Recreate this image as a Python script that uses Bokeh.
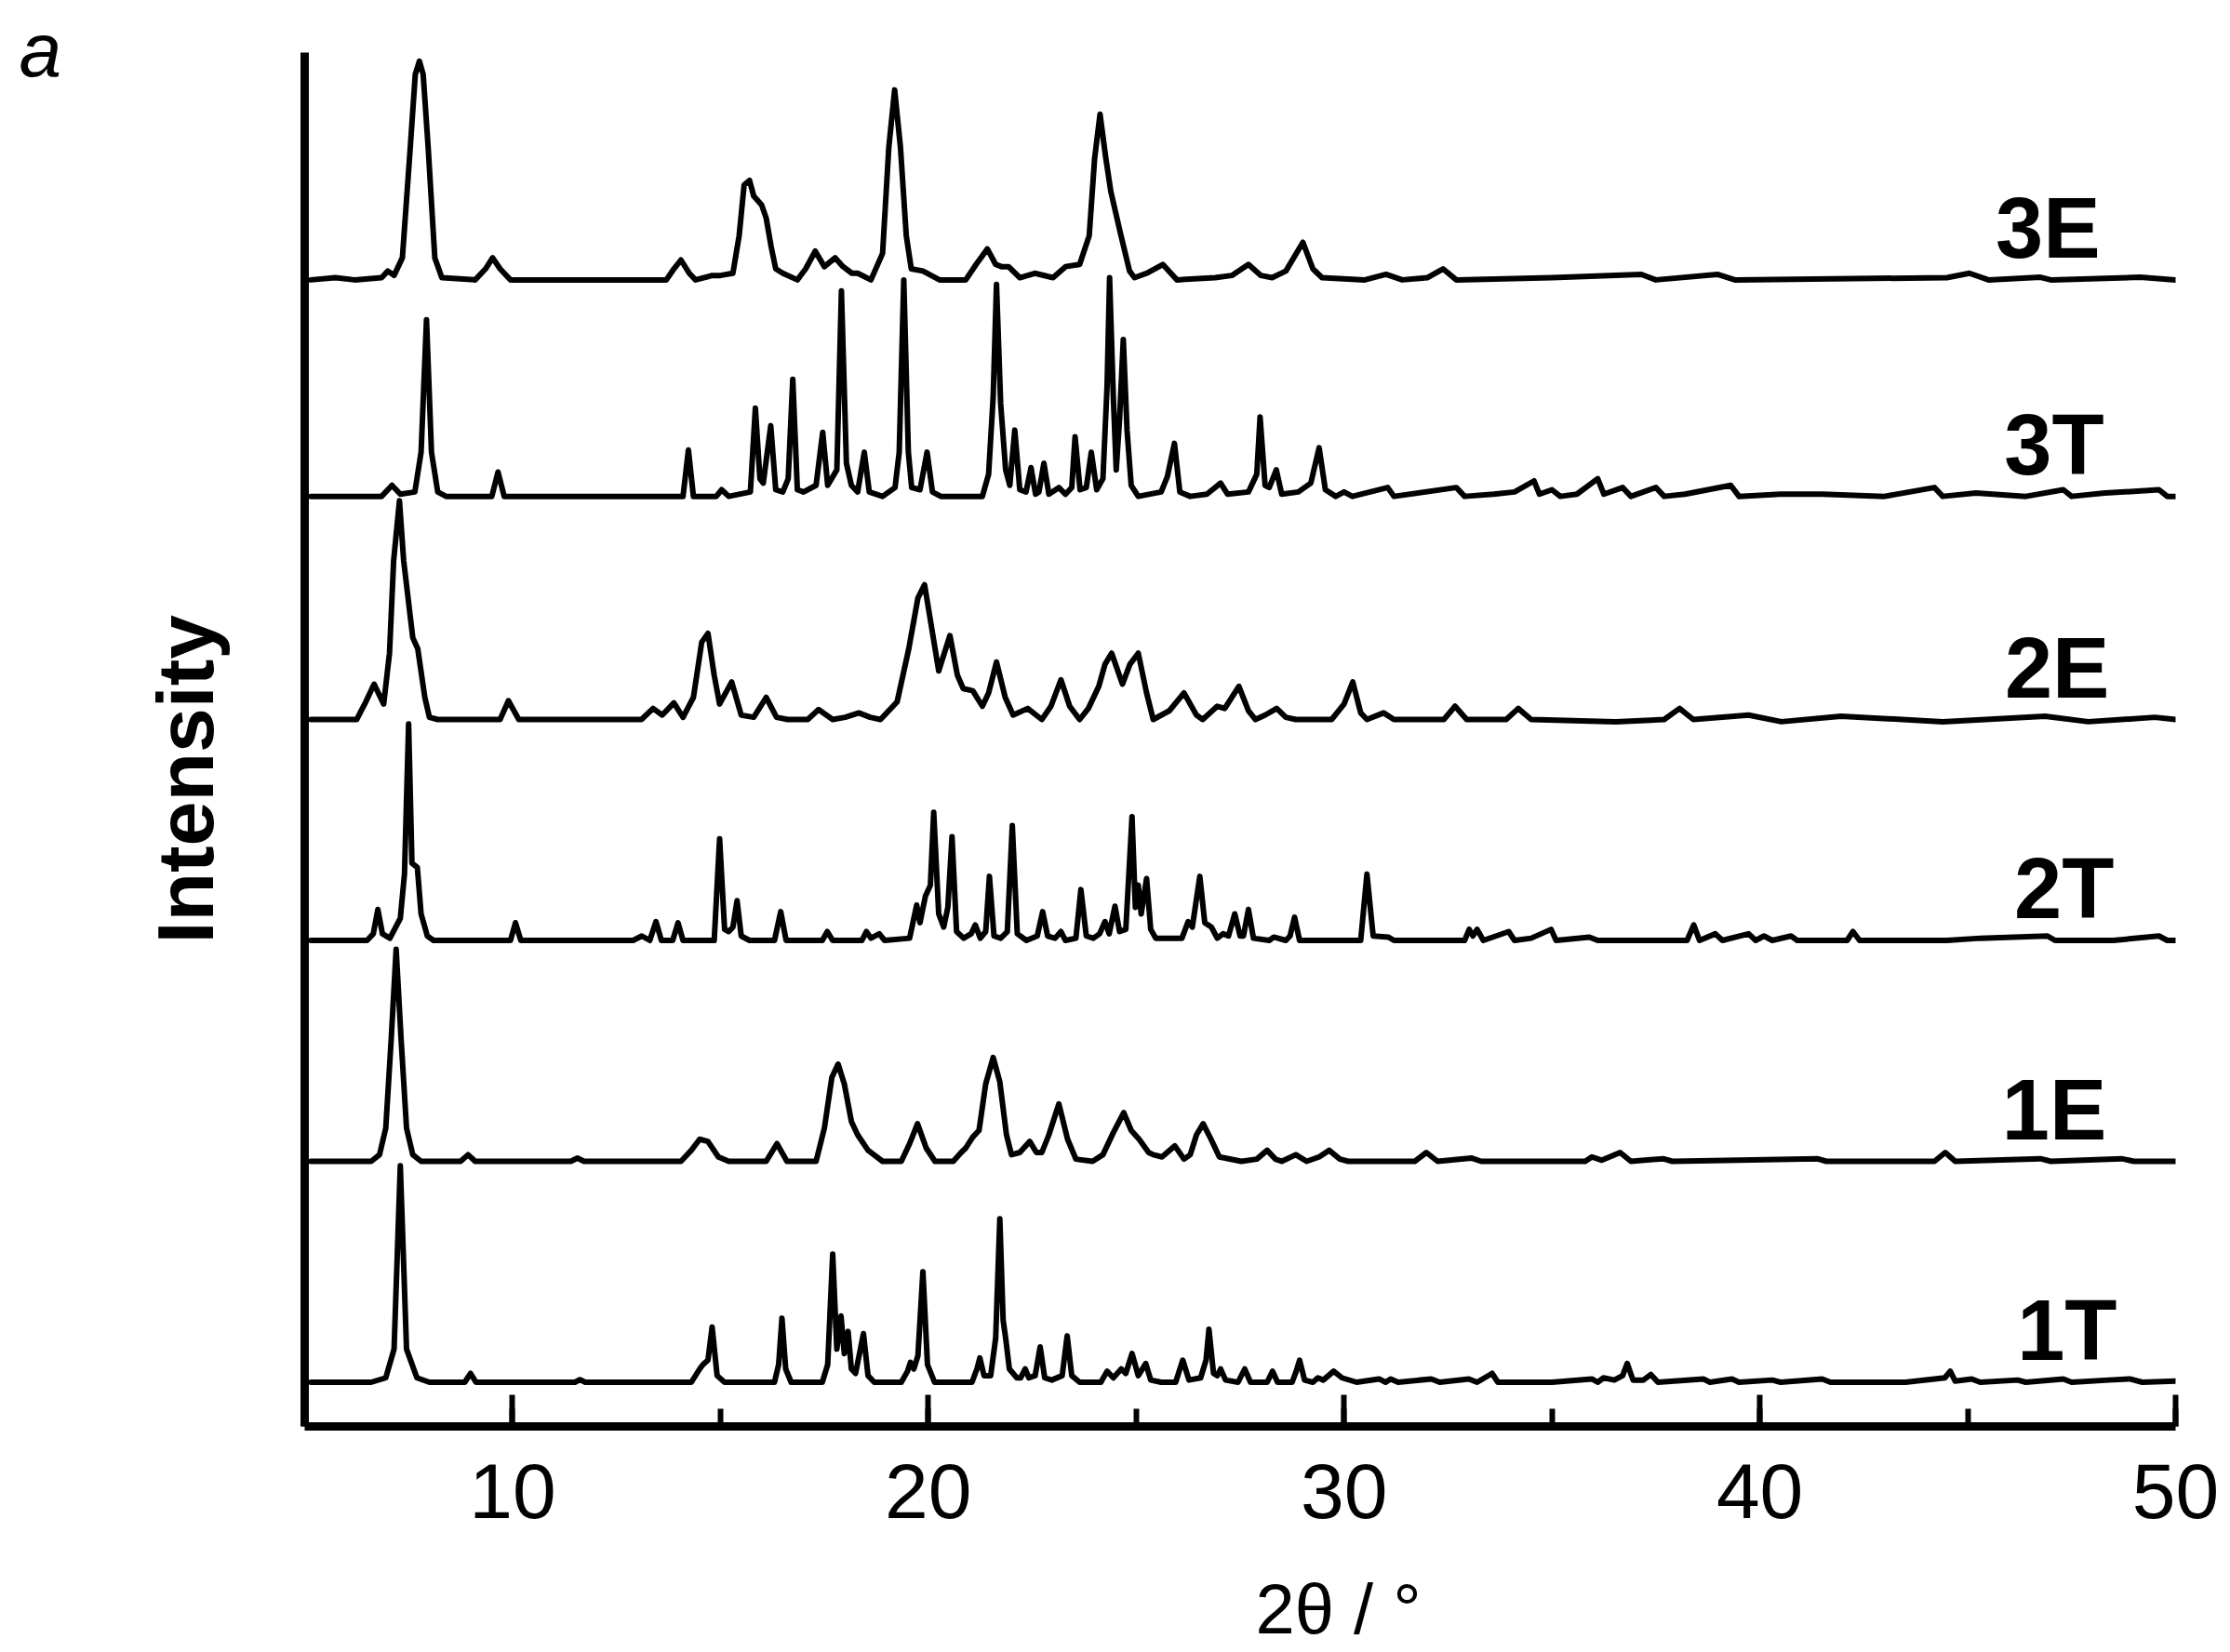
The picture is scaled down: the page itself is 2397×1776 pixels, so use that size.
from bokeh.plotting import figure
from bokeh.models import SingleIntervalTicker, FixedTicker, Title, Label
from bokeh.embed import file_html
from bokeh.resources import INLINE

# ---- data: traced (2theta, relative intensity) points for each pattern ----
PATTERN_1T = [(5.15,0),(6.6,0),(6.95,0.02),(7.15,0.15),(7.3,0.98),(7.45,0.15),(7.7,0.02),(8.0,0),
 (8.85,0),(8.99,0.04),(9.12,0),(11.5,0),(11.62,0.012),(11.75,0),(14.3,0),(14.5,0.06),(14.58,0.08),
 (14.7,0.10),(14.8,0.25),(14.92,0.03),(15.1,0),(16.3,0),(16.4,0.08),(16.48,0.29),(16.57,0.06),(16.7,0),
 (17.45,0),(17.58,0.08),(17.7,0.58),(17.8,0.15),(17.9,0.30),(17.98,0.13),(18.07,0.23),(18.15,0.06),
 (18.25,0.04),(18.44,0.22),(18.55,0.03),(18.7,0),(19.35,0),(19.5,0.05),(19.57,0.09),(19.65,0.06),
 (19.75,0.12),(19.87,0.50),(19.98,0.08),(20.15,0),(21.05,0),(21.17,0.06),(21.24,0.11),(21.34,0.03),
 (21.5,0.03),(21.62,0.2),(21.72,0.74),(21.8,0.28),(21.86,0.2),(21.95,0.06),(22.13,0.02),(22.22,0.02),
 (22.33,0.06),(22.42,0.02),(22.57,0.03),(22.69,0.16),(22.8,0.02),(22.97,0.01),(23.22,0.03),(23.34,0.21),
 (23.45,0.03),(23.64,0),(24.15,0),(24.3,0.05),(24.45,0.02),(24.64,0.06),(24.75,0.04),(24.9,0.13),
 (25.05,0.03),(25.23,0.085),(25.35,0.01),(25.6,0),(25.95,0),(26.12,0.1),(26.27,0.01),(26.55,0.02),
 (26.68,0.1),(26.75,0.24),(26.86,0.04),(26.95,0.03),(27.03,0.06),(27.15,0.01),(27.45,0),(27.61,0.06),
 (27.75,0),(28.15,0),(28.28,0.05),(28.4,0),(28.75,0),(28.85,0.05),(28.93,0.10),(29.05,0.01),(29.25,0),
 (29.37,0.02),(29.5,0.01),(29.75,0.05),(29.95,0.02),(30.3,0),(30.84,0.015),(31.0,0),(31.12,0.015),
 (31.3,0),(32.1,0.015),(32.3,0),(33.0,0.015),(33.2,0),(33.56,0.04),(33.7,0),(35.0,0),(35.96,0.015),
 (36.1,0),(36.24,0.02),(36.5,0.01),(36.7,0.03),(36.81,0.085),(36.95,0.01),(37.2,0.01),(37.38,0.035),
 (37.55,0),(38.64,0.015),(38.8,0),(39.33,0.015),(39.5,0),(40.3,0.01),(40.5,0),(41.5,0.015),(41.7,0),
 (43.5,0),(44.45,0.02),(44.58,0.05),(44.7,0.005),(45.1,0.015),(45.3,0),(46.2,0.01),(46.4,0),
 (47.3,0.015),(47.5,0),(48.4,0.01),(48.9,0.015),(49.2,0),(50.0,0.005)]

PATTERN_1E = [(5.15,0),(6.6,0),(6.8,0.03),(6.95,0.15),(7.08,0.55),(7.2,0.96),(7.32,0.55),(7.45,0.15),
 (7.6,0.03),(7.8,0),(8.75,0),(8.93,0.03),(9.1,0),(11.4,0),(11.56,0.015),(11.72,0),(14.05,0),(14.3,0.05),
 (14.5,0.10),(14.7,0.09),(14.95,0.02),(15.2,0),(16.1,0),(16.36,0.08),(16.6,0),(17.3,0),(17.5,0.15),
 (17.68,0.38),(17.83,0.44),(17.98,0.35),(18.15,0.18),(18.3,0.12),(18.55,0.05),(18.9,0),(19.35,0),
 (19.55,0.08),(19.74,0.17),(19.95,0.06),(20.16,0),(20.6,0),(20.79,0.04),(20.9,0.06),(21.07,0.11),
 (21.22,0.14),(21.38,0.35),(21.56,0.47),(21.72,0.36),(21.88,0.12),(22.0,0.03),(22.2,0.04),(22.44,0.09),
 (22.6,0.04),(22.73,0.04),(22.9,0.12),(23.14,0.26),(23.35,0.10),(23.55,0.01),(23.95,0),(24.2,0.03),
 (24.45,0.13),(24.7,0.22),(24.88,0.14),(25.07,0.10),(25.3,0.04),(25.41,0.03),(25.62,0.02),(25.93,0.07),
 (26.15,0.01),(26.3,0.03),(26.45,0.12),(26.61,0.17),(26.8,0.10),(27.0,0.02),(27.53,0),(27.9,0.01),
 (28.15,0.05),(28.35,0.01),(28.5,0),(28.84,0.03),(29.1,0),(29.4,0.02),(29.64,0.05),(29.9,0.01),
 (30.1,0),(31.7,0),(31.98,0.04),(32.25,0),(33.06,0.015),(33.3,0),(35.8,0),(35.96,0.02),(36.2,0.005),
 (36.64,0.04),(36.9,0),(37.67,0.012),(37.9,0),(41.38,0.012),(41.6,0),(44.2,0),(44.46,0.04),(44.7,0),
 (46.75,0.012),(47.0,0),(48.7,0.012),(49.0,0),(50.0,0)]

PATTERN_2T = [(5.15,0),(6.5,0),(6.65,0.03),(6.76,0.14),(6.87,0.03),(7.05,0.01),(7.3,0.1),(7.4,0.3),
 (7.5,0.98),(7.58,0.35),(7.71,0.33),(7.8,0.12),(7.95,0.02),(8.1,0),(9.95,0),(10.07,0.08),(10.2,0),
 (12.9,0),(13.11,0.02),(13.3,0),(13.45,0.085),(13.58,0),(13.85,0),(13.98,0.08),(14.1,0),(14.85,0),
 (14.98,0.46),(15.1,0.05),(15.2,0.04),(15.3,0.06),(15.4,0.18),(15.5,0.02),(15.7,0),(16.3,0),
 (16.45,0.13),(16.58,0),(17.45,0),(17.57,0.04),(17.7,0),(18.4,0),(18.51,0.04),(18.62,0.01),
 (18.82,0.03),(18.95,0),(19.55,0.01),(19.72,0.16),(19.8,0.08),(19.93,0.2),(20.05,0.25),(20.13,0.58),
 (20.25,0.12),(20.37,0.06),(20.47,0.15),(20.57,0.47),(20.68,0.04),(20.85,0.01),(21.03,0.03),
 (21.13,0.07),(21.25,0.01),(21.38,0.04),(21.47,0.29),(21.58,0.02),(21.74,0.01),(21.9,0.04),
 (22.02,0.52),(22.14,0.03),(22.36,0),(22.62,0.02),(22.75,0.13),(22.87,0.02),(23.05,0.01),(23.19,0.04),
 (23.3,0),(23.55,0.01),(23.67,0.23),(23.8,0.02),(23.97,0.01),(24.12,0.03),(24.25,0.085),(24.35,0.03),
 (24.49,0.155),(24.6,0.04),(24.75,0.05),(24.9,0.56),(24.98,0.15),(25.05,0.25),(25.12,0.12),
 (25.25,0.28),(25.35,0.05),(25.47,0.01),(26.1,0.01),(26.25,0.085),(26.35,0.06),(26.53,0.29),
 (26.65,0.08),(26.81,0.06),(26.95,0.01),(27.09,0.03),(27.22,0.02),(27.37,0.12),(27.5,0.02),
 (27.58,0.02),(27.7,0.14),(27.82,0.01),(28.2,0),(28.31,0.015),(28.6,0),(28.7,0.02),(28.81,0.105),
 (28.93,0),(30.4,0),(30.55,0.30),(30.7,0.02),(31.07,0.015),(31.2,0),(32.9,0),(33.01,0.05),(33.1,0.02),
 (33.2,0.05),(33.35,0),(33.96,0.04),(34.1,0),(34.5,0.01),(34.98,0.05),(35.1,0),(35.9,0.015),(36.1,0),
 (38.25,0),(38.41,0.07),(38.55,0),(38.93,0.03),(39.1,0),(39.73,0.03),(39.9,0),(40.1,0.02),(40.3,0),
 (40.75,0.02),(40.9,0),(42.1,0),(42.24,0.04),(42.4,0),(44.5,0),(45.3,0.01),(46.92,0.02),(47.1,0),
 (48.5,0),(49.6,0.02),(49.8,0),(50.0,0)]

PATTERN_2E = [(5.15,0),(6.25,0),(6.47,0.08),(6.67,0.16),(6.9,0.07),(7.04,0.3),(7.14,0.72),(7.28,0.99),
 (7.38,0.72),(7.6,0.37),(7.72,0.32),(7.89,0.1),(8.0,0.01),(8.2,0),(9.7,0),(9.9,0.085),(10.15,0),
 (13.1,0),(13.38,0.05),(13.6,0.02),(13.88,0.075),(14.1,0.01),(14.35,0.1),(14.55,0.35),(14.7,0.39),
 (14.85,0.2),(14.98,0.07),(15.27,0.17),(15.5,0.02),(15.8,0.01),(16.1,0.10),(16.35,0.01),(16.62,0),
 (17.1,0),(17.36,0.045),(17.7,0),(18.0,0.01),(18.33,0.03),(18.6,0.01),(18.85,0),(19.25,0.08),
 (19.53,0.32),(19.75,0.55),(19.91,0.61),(20.05,0.45),(20.25,0.22),(20.52,0.38),(20.7,0.2),
 (20.84,0.14),(21.07,0.13),(21.3,0.06),(21.45,0.12),(21.64,0.26),(21.85,0.1),(22.04,0.02),
 (22.39,0.05),(22.73,0),(22.95,0.06),(23.19,0.18),(23.4,0.06),(23.64,0),(23.85,0.05),(24.1,0.15),
 (24.25,0.25),(24.41,0.30),(24.67,0.16),(24.85,0.25),(25.05,0.30),(25.25,0.12),(25.41,0),(25.8,0.04),
 (26.15,0.12),(26.45,0.02),(26.6,0),(26.95,0.06),(27.13,0.05),(27.47,0.15),(27.7,0.04),(27.87,0),
 (28.1,0.02),(28.38,0.05),(28.6,0.01),(28.84,0),(29.7,0),(30.0,0.07),(30.21,0.17),(30.4,0.03),
 (30.55,0),(30.95,0.03),(31.2,0),(32.4,0),(32.67,0.06),(32.95,0),(33.9,0),(34.19,0.05),(34.5,0),
 (36.53,-0.01),(37.7,0),(38.07,0.05),(38.4,0),(39.73,0.02),(40.52,-0.01),(41.95,0.015),(44.4,-0.01),
 (46.86,0.015),(47.9,-0.01),(49.5,0.01),(50.0,0)]

PATTERN_3T = [(5.15,0),(6.85,0),(7.1,0.05),(7.3,0.01),(7.65,0.02),(7.8,0.2),(7.93,0.80),(8.05,0.2),
 (8.2,0.02),(8.4,0),(9.5,0),(9.65,0.11),(9.8,0),(14.1,0),(14.23,0.21),(14.35,0),(14.9,0),(15.03,0.03),
 (15.2,0),(15.72,0.02),(15.84,0.40),(15.95,0.08),(16.03,0.06),(16.21,0.32),(16.33,0.03),(16.5,0.02),
 (16.63,0.08),(16.74,0.53),(16.85,0.03),(17.0,0.02),(17.3,0.05),(17.46,0.29),(17.58,0.05),(17.8,0.12),
 (17.91,0.93),(18.03,0.15),(18.15,0.05),(18.3,0.02),(18.46,0.20),(18.58,0.02),(18.9,0),(19.2,0.04),
 (19.3,0.2),(19.41,0.98),(19.52,0.2),(19.6,0.04),(19.8,0.03),(19.97,0.20),(20.1,0.02),(20.3,0),
 (21.3,0),(21.45,0.1),(21.56,0.45),(21.64,0.96),(21.74,0.42),(21.86,0.12),(21.96,0.05),(22.08,0.30),
 (22.2,0.03),(22.35,0.02),(22.47,0.13),(22.58,0.01),(22.66,0.02),(22.78,0.15),(22.9,0.01),(23.14,0.04),
 (23.3,0.01),(23.45,0.04),(23.53,0.27),(23.65,0.03),(23.8,0.04),(23.92,0.20),(24.05,0.03),(24.2,0.08),
 (24.3,0.5),(24.36,0.99),(24.45,0.45),(24.52,0.12),(24.6,0.35),(24.69,0.71),(24.78,0.3),(24.88,0.05),
 (25.05,0),(25.6,0.02),(25.75,0.09),(25.92,0.24),(26.05,0.02),(26.3,0),(26.7,0.01),(27.03,0.06),
 (27.2,0.01),(27.7,0.02),(27.9,0.1),(27.98,0.36),(28.1,0.05),(28.2,0.04),(28.37,0.12),(28.5,0.01),
 (28.9,0.02),(29.2,0.06),(29.4,0.22),(29.55,0.03),(29.8,0),(30.0,0.02),(30.2,0),(31.05,0.04),(31.2,0),
 (32.7,0.04),(32.9,0),(33.6,0.01),(34.1,0.02),(34.57,0.07),(34.7,0.01),(35.0,0.03),(35.2,0),
 (35.6,0.01),(36.1,0.08),(36.25,0.01),(36.7,0.04),(36.9,0),(37.5,0.04),(37.7,0),(38.2,0.01),
 (39.3,0.05),(39.5,0),(40.5,0.01),(41.5,0.01),(43.0,0),(44.2,0.04),(44.4,0),(45.2,0.015),(46.4,0),
 (47.3,0.03),(47.5,0),(48.3,0.015),(49.6,0.03),(49.8,0),(50.0,0)]

PATTERN_3E = [(5.15,0),(5.74,0.01),(6.2,0),(6.85,0.01),(7.0,0.04),(7.15,0.02),(7.35,0.1),(7.54,0.6),
 (7.66,0.93),(7.76,0.99),(7.85,0.93),(7.97,0.6),(8.13,0.1),(8.3,0.01),(9.1,0),(9.35,0.05),(9.52,0.10),
 (9.7,0.05),(9.95,0),(13.7,0),(13.88,0.05),(14.05,0.09),(14.25,0.03),(14.4,0),(14.8,0.02),(15.0,0.02),
 (15.3,0.03),(15.45,0.2),(15.57,0.43),(15.7,0.45),(15.8,0.38),(15.99,0.34),(16.1,0.28),(16.22,0.15),
 (16.33,0.05),(16.5,0.03),(16.85,0),(17.05,0.05),(17.28,0.13),(17.5,0.06),(17.76,0.10),(17.95,0.06),
 (18.16,0.03),(18.3,0.03),(18.62,0),(18.9,0.12),(19.05,0.6),(19.19,0.86),(19.33,0.6),(19.47,0.2),
 (19.59,0.05),(19.87,0.04),(20.27,0),(20.9,0),(21.15,0.07),(21.42,0.14),(21.62,0.07),(21.76,0.06),
 (21.93,0.06),(22.2,0.01),(22.56,0.03),(23.0,0.01),(23.3,0.06),(23.64,0.07),(23.87,0.2),(24.0,0.55),
 (24.13,0.75),(24.27,0.55),(24.39,0.40),(24.61,0.22),(24.84,0.04),(24.96,0.01),(25.25,0.03),
 (25.64,0.07),(25.98,0),(26.9,0.01),(27.3,0.02),(27.7,0.07),(28.0,0.02),(28.27,0.01),(28.6,0.04),
 (29.01,0.17),(29.25,0.05),(29.47,0.01),(30.5,0),(31.01,0.025),(31.4,0),(32.0,0.01),(32.38,0.05),
 (32.7,0),(35.0,0.01),(37.15,0.025),(37.5,0),(38.98,0.025),(39.4,0),(44.5,0.01),(45.04,0.03),
 (45.5,0),(46.75,0.012),(47.0,0),(49.15,0.012),(50.0,0)]

SAMPLE_NAMES = ["1T", "1E", "2T", "2E", "3T", "3E"]
SAMPLE_PATTERNS = [PATTERN_1T, PATTERN_1E, PATTERN_2T, PATTERN_2E, PATTERN_3T, PATTERN_3E]
STACK_OFFSETS = [0.2, 1.2, 2.2, 3.2, 4.21, 5.19]
X_LABEL = "2θ / °"
Y_LABEL = "Intensity"
PANEL_LETTER = "a"

# ---- styling ----
FONT = "Liberation Sans"
NBSP = "\u00a0"
NAME_LABEL_RIGHT = [48.59, 48.34, 48.52, 48.41, 48.28, 48.19]   # right edge of each name, in 2theta
NAME_LABEL_LIFT = 0.235                                         # above the pattern's baseline

p = figure(width=2390, height=1774, x_range=(5, 50), y_range=(0, 6.219),
           output_backend="svg", toolbar_location=None,
           min_border_left=327, min_border_right=52, min_border_top=56, min_border_bottom=241)
p.outline_line_color = None
p.xgrid.visible = False
p.ygrid.visible = False
p.background_fill_color = "white"
p.border_fill_color = "white"

for pattern, off in zip(SAMPLE_PATTERNS, STACK_OFFSETS):
    xs = [pt[0] for pt in pattern]
    ys = [pt[1] + off for pt in pattern]
    p.line(xs, ys, line_color="black", line_width=6, line_join="round", line_cap="round")

# x axis
xa = p.xaxis[0]
xa.ticker = SingleIntervalTicker(interval=10, num_minor_ticks=2)
xa.axis_line_width = 9
xa.axis_line_color = "black"
xa.major_tick_in = 34
xa.major_tick_out = 0
xa.minor_tick_in = 19
xa.minor_tick_out = 0
xa.major_tick_line_width = 6
xa.minor_tick_line_width = 6
xa.major_tick_line_color = "black"
xa.minor_tick_line_color = "black"
xa.major_label_text_font = FONT
xa.major_label_text_font_size = "84px"
xa.major_label_text_color = "black"
xa.major_label_standoff = 40
# axis title, shifted right of the frame centre with leading no-break spaces
xa.axis_label = NBSP * 10 + X_LABEL
xa.axis_label_text_font = FONT
xa.axis_label_text_font_size = "76px"
xa.axis_label_text_font_style = "normal"
xa.axis_label_text_color = "black"
xa.axis_label_standoff = 52

# y axis: plain line
ya = p.yaxis[0]
ya.ticker = FixedTicker(ticks=[])
ya.axis_line_width = 9
ya.axis_line_color = "black"
ya.major_tick_in = 0
ya.major_tick_out = 0
ya.minor_tick_in = 0
ya.minor_tick_out = 0
ya.major_tick_line_color = None
ya.minor_tick_line_color = None
ya.major_label_standoff = 0

# y title (left side panel)
p.add_layout(Title(text=Y_LABEL, align="left", offset=519, vertical_align="bottom",
                   standoff=162, text_font=FONT, text_font_size="86px",
                   text_font_style="bold", text_color="black"), "left")

# panel letter as the plot title
p.title.text = PANEL_LETTER
p.title.align = "left"
p.title.offset = -307
p.title.vertical_align = "bottom"
p.title.standoff = -84
p.title.text_font = FONT
p.title.text_font_size = "82px"
p.title.text_font_style = "italic"
p.title.text_color = "black"

# series labels
for name, off, xr in zip(SAMPLE_NAMES, STACK_OFFSETS, NAME_LABEL_RIGHT):
    p.add_layout(Label(x=xr, y=off + NAME_LABEL_LIFT, text=name, text_align="right",
                       text_baseline="alphabetic", text_font=FONT,
                       text_font_size="92px", text_font_style="bold", text_color="black"))

open("out.html", "w").write(file_html(p, INLINE))
